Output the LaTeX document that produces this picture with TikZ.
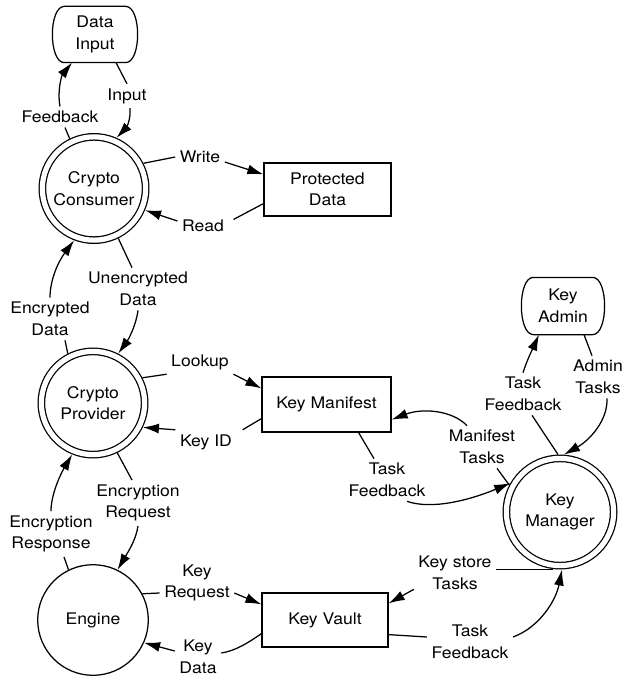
\documentclass[tikz,border=0pt]{standalone}
\usepackage{fontspec}
\setmainfont[FakeStretch=1.1]{TeX Gyre Heros}
\usetikzlibrary{arrows.meta}
\newcommand\termoutline[1]{\draw ([xshift=12pt]#1.north west) -- ([xshift=-12pt]#1.north east) .. controls ([xshift=4pt]#1.north east) and ([xshift=4pt]#1.south east) .. ([xshift=-12pt]#1.south east) -- ([xshift=12pt]#1.south west) .. controls ([xshift=-4pt]#1.south west) and ([xshift=-4pt]#1.north west) .. cycle;}
\begin{document}
\begin{tikzpicture}[x=1pt,y=-1pt,line width=1.25pt,
  every node/.style={font=\fontsize{16}{21.5}\selectfont, align=center},
  lbl/.style={inner sep=4pt},
  arr/.style={-{Latex[length=16pt,width=10pt]}},
  dcirc/.style={circle, draw, double, double distance=5.2pt, inner sep=1pt, outer sep=3.9pt},
  scirc/.style={circle, draw, inner sep=1pt},
  store/.style={rectangle, draw, inner sep=0pt},
  term/.style={rectangle, inner sep=0pt, minimum width=84pt, minimum height=55pt}
]
\useasboundingbox (0,0) rectangle (626,677);

% main nodes
\node[term] (di) at (95,34.5) {Data\\Input};
\node[dcirc, minimum size=103.3pt] (cc) at (94,188.5) {Crypto\\Consumer};
\node[store, minimum width=127pt, minimum height=53pt] (pd) at (327.5,189.5) {Protected\\Data};
\node[dcirc, minimum size=103.3pt] (cp) at (93,403) {Crypto\\Provider};
\node[store, minimum width=129pt, minimum height=55pt] (km) at (326.5,404.5) {Key Manifest};
\node[scirc, minimum size=110.6pt] (en) at (93,620) {Engine};
\node[store, minimum width=126pt, minimum height=54pt] (kv) at (325,620) {Key Vault};
\node[dcirc, minimum size=107.3pt] (kmg) at (560,512) {Key\\Manager};
\node[term, minimum width=82pt, minimum height=56pt] (ka) at (563,306) {Key\\Admin};
\termoutline{di}
\termoutline{ka}

% labels
\node[lbl] (lIn) at (127,96) {Input};
\node[lbl] (lFb) at (60,117) {Feedback};
\node[lbl] (lWr) at (200,157) {Write};
\node[lbl] (lRd) at (203,226) {Read};
\node[lbl] (lUn) at (138,289) {Unencrypted\\Data};
\node[lbl] (lEn) at (50,319) {Encrypted\\Data};
\node[lbl] (lLk) at (200,362) {Lookup};
\node[lbl] (lKi) at (206,442) {Key ID};
\node[lbl] (lEr) at (138,503) {Encryption\\Request};
\node[lbl] (lEs) at (51,534) {Encryption\\Response};
\node[lbl] (lKr) at (197,583) {Key\\Request};
\node[lbl] (lKd) at (198,657) {Key\\Data};
\node[lbl] (lMt) at (482,447) {Manifest\\Tasks};
\node[lbl] (lTf1) at (387,480) {Task\\Feedback};
\node[lbl] (lTf2) at (523,394) {Task\\Feedback};
\node[lbl] (lAt) at (598,377) {Admin\\Tasks};
\node[lbl] (lKs) at (455,573) {Key store\\Tasks};
\node[lbl] (lTf3) at (470,642) {Task\\Feedback};

% connectors
\draw ([xshift=21pt]di.south) -- (lIn.north);
\draw[arr] ([xshift=3pt]lIn.south) .. controls (131,120) and (126,128) .. (cc.66);
\draw (cc.116) -- ([xshift=5pt]lFb.south);
\draw[arr] (lFb.north) .. controls (57,90) and (62,75) .. ([xshift=-23pt]di.south);
\draw (cc.27) -- (lWr.west);
\draw[arr] ([yshift=-5pt]lWr.east) -- ([yshift=-12pt]pd.north west);
\draw ([yshift=13pt]pd.south west) -- ([xshift=5pt,yshift=-4pt]lRd.north east);
\draw[arr] ([yshift=5pt]lRd.west) -- (cc.-23);
\draw (cc.-64) -- ([xshift=-6pt]lUn.north);
\draw[arr] (lUn.south) .. controls (136,326) and (128,340) .. (cp.63);
\draw (cp.117) -- ([xshift=15pt]lEn.south);
\draw[arr] (lEn.north) .. controls (50,280) and (58,262) .. (cc.-111);
\draw (cp.27) -- (lLk.south west);
\draw[arr] (lLk.south east) -- ([yshift=-12pt]km.north west);
\draw ([yshift=14pt]km.south west) -- ([xshift=6pt]lKi.north east);
\draw[arr] (lKi.north west) -- (cp.-26);
\draw (cp.-64) -- ([xshift=-6pt]lEr.north);
\draw[arr] (lEr.south) .. controls (136,540) and (128,552) .. (en.64);
\draw (en.116) -- ([xshift=13pt]lEs.south);
\draw[arr] (lEs.north) .. controls (51,495) and (60,475) .. (cp.-112);
\draw (en.28) -- ([yshift=-10pt]lKr.west);
\draw[arr] ([yshift=-10pt]lKr.east) -- ([yshift=-12pt]kv.north west);
\draw ([yshift=14pt]kv.south west) .. controls (248,643) and (235,651) .. ([yshift=4pt]lKd.east);
\draw[arr] ([yshift=6pt]lKd.west) -- (en.-24);
\draw (kmg.152) -- ([xshift=15pt]lMt.south);
\draw[arr] ([xshift=-15pt]lMt.north) .. controls (452,410) and (422,408) .. ([yshift=13pt]km.south east);
\draw ([xshift=-33pt]km.south east) -- ([xshift=-13pt]lTf1.north);
\draw[arr] ([xshift=20pt]lTf1.south) .. controls (432,510) and (470,500) .. (kmg.150);
\draw (kmg.92) -- ([xshift=9pt]lTf2.south);
\draw[arr] (lTf2.north) .. controls (527,360) and (533,348) .. ([xshift=-24pt]ka.south);
\draw ([xshift=21pt]ka.south) -- ([xshift=-6pt]lAt.north);
\draw[arr] ([xshift=9pt]lAt.south) .. controls (608,420) and (590,440) .. (kmg.86);
\draw (kmg.-97) -- (kmg.-97 -| lKs.east);
\draw[arr] ([yshift=5pt]lKs.south west) -- ([yshift=-11pt]kv.north east);
\draw ([yshift=13pt]kv.south east) -- ([yshift=5pt]lTf3.west);
\draw[arr] ([yshift=5pt]lTf3.east) .. controls (540,627) and (556,600) .. (kmg.-88);
\end{tikzpicture}
\end{document}
